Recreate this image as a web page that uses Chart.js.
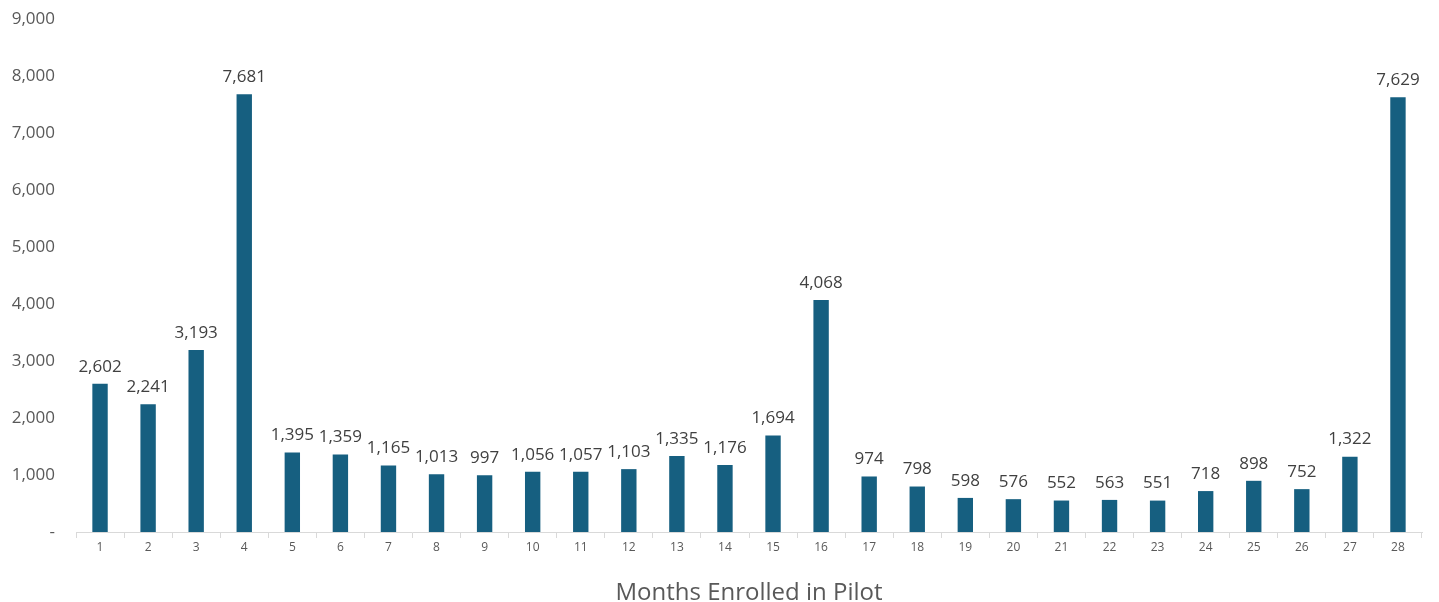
<!DOCTYPE html>
<html>
<head>
<meta charset="utf-8">
<script src="https://cdn.jsdelivr.net/npm/chart.js@4/dist/chart.umd.min.js"></script>
<style>
  html, body { margin: 0; padding: 0; background: #fff; }
  #wrap { width: 1439px; height: 602px; position: relative; }
</style>
</head>
<body>
<div id="wrap"><canvas id="myChart"></canvas></div>
<script>
const months = ['1','2','3','4','5','6','7','8','9','10','11','12','13','14','15','16','17','18','19','20','21','22','23','24','25','26','27','28'];
const enrolled = [2602, 2241, 3193, 7681, 1395, 1359, 1165, 1013, 997, 1056, 1057, 1103, 1335, 1176, 1694, 4068, 974, 798, 598, 576, 552, 563, 551, 718, 898, 752, 1322, 7629];
const yTicks = [0, 1000, 2000, 3000, 4000, 5000, 6000, 7000, 8000, 9000];

const fontFamily = "'Open Sans', 'Liberation Sans', sans-serif";

// prints the value over each bar
const barValues = {
    id: 'barValues',
    afterDatasetsDraw(chart) {
        const ctx = chart.ctx;
        const meta = chart.getDatasetMeta(0);
        ctx.save();
        ctx.font = '17px ' + fontFamily;
        ctx.fillStyle = '#404040';
        ctx.textAlign = 'center';
        ctx.textBaseline = 'middle';
        meta.data.forEach((bar, i) => {
            ctx.fillText(enrolled[i].toLocaleString('en-US'), bar.x, bar.y - 17);
        });
        ctx.restore();
    }
};

const myChart = new Chart(document.querySelector('#myChart'), {
    type: 'bar',
    data: {
        labels: months,
        datasets: [
            {
                label: 'Members',
                data: enrolled,
                backgroundColor: '#165f80',
                barPercentage: 0.64,
                categoryPercentage: 0.5
            }
        ]
    },
    options: {
        responsive: true,
        maintainAspectRatio: false,
        animation: false,
        layout: {
            padding: { top: 19, right: 17, bottom: 0, left: 0 }
        },
        plugins: {
            legend: { display: false },
            tooltip: { enabled: false }
        },
        scales: {
            x: {
                afterFit(scale) {
                    scale.height = 70;
                },
                grid: {
                    display: true,
                    drawOnChartArea: false,
                    drawTicks: true,
                    tickLength: 6,
                    color: '#d9d9d9'
                },
                border: { display: true, color: '#d9d9d9', width: 1 },
                ticks: {
                    color: '#595959',
                    font: { family: fontFamily, size: 12 },
                    padding: 2,
                    maxRotation: 0
                },
                title: {
                    display: true,
                    text: 'Months Enrolled in Pilot',
                    color: '#595959',
                    font: { family: fontFamily, size: 24, lineHeight: 1 },
                    padding: { top: 18, bottom: -3 }
                }
            },
            y: {
                min: 0,
                max: 9000,
                afterBuildTicks(scale) {
                    scale.ticks = yTicks.map(v => ({ value: v }));
                },
                afterFit(scale) {
                    scale.width = 76;
                    scale.paddingTop = 0;
                },
                grid: { display: false },
                border: { display: false },
                ticks: {
                    color: '#595959',
                    font: { family: fontFamily, size: 17 },
                    padding: 13,
                    callback: v => v === 0 ? '-' : v.toLocaleString('en-US')
                }
            }
        }
    },
    plugins: [barValues]
});
</script>
</body>
</html>
